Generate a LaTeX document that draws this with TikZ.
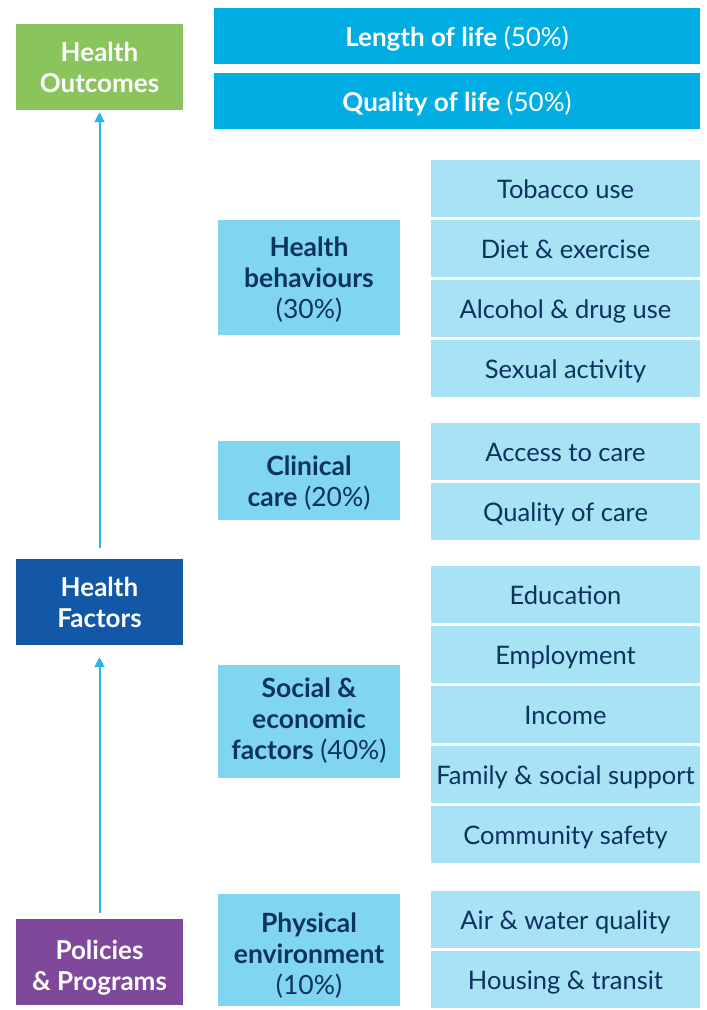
\documentclass[tikz,border=0pt]{standalone}
\usepackage{fontspec}
\setmainfont{Lato}
\usetikzlibrary{arrows.meta}
\definecolor{outgreen}{HTML}{89C55C}
\definecolor{facblue}{HTML}{1258A7}
\definecolor{polpurple}{HTML}{80489A}
\definecolor{headcyan}{HTML}{00AEE4}
\definecolor{midcyan}{HTML}{80D5F1}
\definecolor{lightcyan}{HTML}{A8E2F5}
\definecolor{navytext}{HTML}{0C325E}
\definecolor{arrowcyan}{HTML}{29B5E8}
\begin{document}
\begin{tikzpicture}[x=1pt, y=-1pt,
  level/.style={inner sep=0pt, text=white, align=center,
    font=\bfseries\fontsize{26}{31}\selectfont,
    minimum width=167pt, minimum height=86pt},
  head/.style={inner sep=0pt, fill=headcyan, text=white,
    font=\fontsize{26}{31}\selectfont, text height=20pt, text depth=0pt,
    minimum width=486pt, minimum height=56pt},
  factor/.style={inner sep=0pt, fill=midcyan, text=navytext, align=center,
    font=\fontsize{26.5}{31}\selectfont, text depth=8pt, minimum width=182pt},
  item/.style={inner sep=0pt, fill=lightcyan, text=navytext,
    font=\fontsize{25.5}{31}\selectfont, text height=20pt, text depth=0pt,
    minimum width=269pt, minimum height=57pt},
  uparrow/.style={-{Triangle[length=10pt,width=10pt]}, line width=2pt, arrowcyan}
  ]
  \useasboundingbox (0,0) rectangle (707,1010);
  % left column
  \node[level, fill=outgreen] (hout) at (99.5,67) {Health\\Outcomes};
  \node[level, fill=facblue] (hfac) at (99.5,602) {Health\\Factors};
  \node[level, fill=polpurple, text height=65pt, text depth=8pt] (pol) at (99.5,962) {Policies\\\& Programs};
  \draw[uparrow] ([yshift=11pt]hfac.north) -- ([yshift=-2pt]hout.south);
  \draw[uparrow] ([yshift=6pt]pol.north) -- ([yshift=-12pt]hfac.south);
  % outcomes
  \node[head] (len) at (457,36) {\textbf{Length of life} (50\%)};
  \node[head] (qual) at (457,101) {\textbf{Quality of life} (50\%)};
  % factors
  \node[factor, minimum height=115pt, text height=90pt] (behav) at (309,277.5) {\textbf{Health}\\\textbf{behaviours}\\(30\%)};
  \node[factor, minimum height=79pt, text height=60pt] (clin) at (309,480.5) {\textbf{Clinical}\\\textbf{care} (20\%)};
  \node[factor, minimum height=113pt, text height=84pt] (soc) at (309,721.5) {\textbf{Social \&}\\\textbf{economic}\\\textbf{factors} (40\%)};
  \node[factor, minimum height=112pt, text height=97pt] (phys) at (309,950) {\textbf{Physical}\\\textbf{environment}\\(10\%)};
  % items
  \node[item] (tob) at (565.5,188.5) {Tobacco use};
  \node[item] (diet) at (565.5,248.5) {Diet \& exercise};
  \node[item] (alc) at (565.5,308.5) {Alcohol \& drug use};
  \node[item] (sex) at (565.5,368.5) {Sexual activity};
  \node[item] (acc) at (565.5,451.5) {Access to care};
  \node[item] (qcare) at (565.5,511.5) {Quality of care};
  \node[item] (edu) at (565.5,594.5) {Education};
  \node[item] (emp) at (565.5,654.5) {Employment};
  \node[item] (inc) at (565.5,714.5) {Income};
  \node[item] (fam) at (565.5,774.5) {Family \& social support};
  \node[item] (comm) at (565.5,834.5) {Community safety};
  \node[item] (air) at (565.5,919.5) {Air \& water quality};
  \node[item] (hous) at (565.5,979.5) {Housing \& transit};
\end{tikzpicture}
\end{document}
